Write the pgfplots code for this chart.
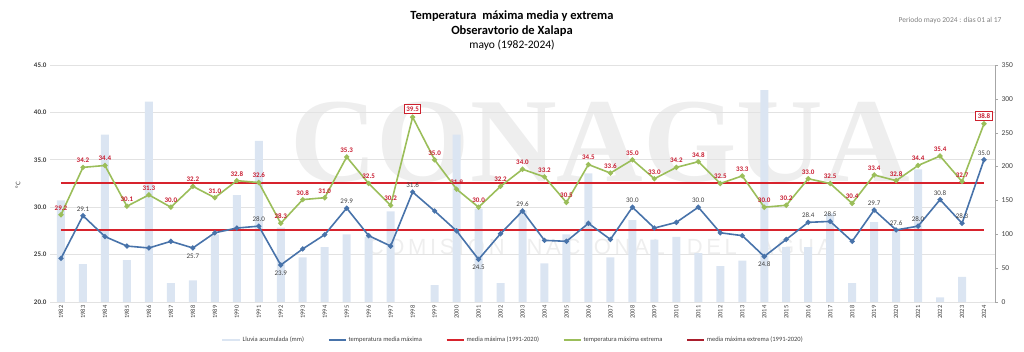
\documentclass[border=0pt]{standalone}
\usepackage{fontspec}
\setmainfont{Carlito}
\newfontfamily\wmfont{Liberation Serif}
\newfontfamily\wmsans{Liberation Sans}
\usepackage{pgfplots}
\pgfplotsset{compat=1.18}
\usepackage{pgfplotstable}

\definecolor{barc}{RGB}{219,229,242}
\definecolor{bluel}{RGB}{72,115,170}
\definecolor{greenl}{RGB}{155,190,90}
\definecolor{redl}{RGB}{205,32,45}
\definecolor{redm}{RGB}{215,35,45}
\definecolor{labred}{RGB}{200,30,50}
\definecolor{gridc}{RGB}{226,226,226}
\definecolor{txt}{RGB}{64,64,64}
\definecolor{wm}{RGB}{238,238,238}

\pgfplotstableread{
idx year media extrema lluvia
0 1982 24.6 29.2 150
1 1983 29.1 34.2 56
2 1984 26.9 34.4 247
3 1985 25.9 30.1 62
4 1986 25.7 31.3 296
5 1987 26.4 30.0 28
6 1988 25.7 32.2 32
7 1989 27.3 31.0 100
8 1990 27.8 32.8 158
9 1991 28.0 32.6 238
10 1992 23.9 28.3 110
11 1993 25.6 30.8 66
12 1994 27.1 31.0 81
13 1995 29.9 35.3 100
14 1996 27.0 32.5 96
15 1997 25.9 30.2 134
16 1998 31.6 39.5 0
17 1999 29.6 35.0 25
18 2000 27.5 31.9 247
19 2001 24.5 30.0 138
20 2002 27.2 32.2 28
21 2003 29.6 34.0 135
22 2004 26.5 33.2 57
23 2005 26.4 30.5 100
24 2006 28.3 34.5 190
25 2007 26.6 33.6 66
26 2008 30.0 35.0 121
27 2009 27.8 33.0 92
28 2010 28.4 34.2 96
29 2011 30.0 34.8 72
30 2012 27.3 32.5 53
31 2013 27.0 33.3 61
32 2014 24.8 30.0 313
33 2015 26.6 30.2 81
34 2016 28.4 33.0 81
35 2017 28.5 32.5 131
36 2018 26.4 30.4 28
37 2019 29.7 33.4 118
38 2020 27.6 32.8 106
39 2021 28.0 34.4 196
40 2022 30.8 35.4 7
41 2023 28.3 32.7 37
42 2024 35.0 38.8 0
}\datos

\pgfplotstableread{
idx val
1 29.1
9 28.0
13 29.9
16 31.6
21 29.6
26 30.0
29 30.0
34 28.4
35 28.5
37 29.7
38 27.6
39 28.0
40 30.8
41 28.3
42 35.0
}\blueabove

\pgfplotstableread{
idx val
6 25.7
10 23.9
19 24.5
32 24.8
}\bluebelow

\pgfplotstableread{
idx val
16 39.5
42 38.8
}\boxed

\pgfplotstableread{
idx lo hi
0 27.6 32.6
42 27.6 32.6
}\refs

\pgfplotsset{
  base/.style={
    at={(50pt,50pt)}, anchor=south west, scale only axis,
    width=945pt, height=237pt, xmin=-0.5, xmax=42.5,
    clip=false,
  },
}

\begin{document}
\begin{tikzpicture}
\path[use as bounding box] (0,0) rectangle (1024pt,352pt);

% watermark
\node[text=wm, font=\wmfont\bfseries\fontsize{120}{120}\selectfont, inner sep=0] at (600pt,210pt) {CONAGUA};
\node[text=wm, font=\wmsans\fontsize{22}{22}\selectfont, inner sep=0] at (600pt,107pt) {C\,O\,M\,I\,S\,I\,Ó\,N\quad N\,A\,C\,I\,O\,N\,A\,L\quad D\,E\,L\quad A\,G\,U\,A};

% Axis A: grid, x ticks, left y ticks
\begin{axis}[base,
  ymin=20, ymax=45, ytick={20,25,...,45},
  ymajorgrids, grid style={gridc, line width=0.6pt},
  axis y line*=left, y axis line style={draw=none},
  axis x line*=bottom, x axis line style={gridc, line width=0.6pt, -},
  xtick={0,...,42},
  xticklabels from table={\datos}{year},
  major tick length=0pt,
  xticklabel style={rotate=90, anchor=east, font=\fontsize{6.5}{6.5}\selectfont, text=txt},
  yticklabel style={font=\bfseries\fontsize{7}{7}\selectfont, text=txt},
  yticklabel={\pgfmathprintnumber[fixed,fixed zerofill,precision=1]{\tick}},
  /pgf/number format/assume math mode=true,
]
\end{axis}

% Axis B: rain bars, right axis
\begin{axis}[base,
  ymin=0, ymax=350, ytick={0,50,...,350},
  axis y line*=right, axis x line=none,
  y axis line style={draw=gray!70, -},
  ytick style={draw=gray!70},
  tick align=outside, major tick length=3pt,
  yticklabel style={font=\fontsize{7.5}{7.5}\selectfont, text=txt},
  /pgf/number format/assume math mode=true,
]
\addplot[ybar, bar width=8pt, fill=barc, draw=none] table[x=idx, y=lluvia] {\datos};
\end{axis}

% Axis C: temperature lines
\begin{axis}[base,
  ymin=20, ymax=45, hide axis,
  legend style={at={(0.49,-0.16)}, anchor=center, draw=none, fill=none,
    font=\fontsize{6.5}{7}\selectfont, text=txt, legend columns=5,
    /tikz/every even column/.append style={column sep=22pt}},
  legend image code/.code={\draw[#1] (0cm,0cm) -- (0.6cm,0cm);},
  /pgf/number format/assume math mode=true,
]
\addlegendimage{line width=2.2pt, draw=barc}
\addlegendentry{Lluvia acumulada (mm)}
\addlegendimage{line width=1.4pt, draw=bluel}
\addlegendentry{temperatura media máxima}
\addlegendimage{line width=1.4pt, draw=redm}
\addlegendentry{media máxima (1991-2020)}
\addlegendimage{line width=1.4pt, draw=greenl}
\addlegendentry{temperatura máxima extrema}
\addlegendimage{line width=1.4pt, draw={rgb,255:red,170;green,30;blue,45}}
\addlegendentry{media máxima extrema (1991-2020)}

\addplot[forget plot, color=redm, line width=2pt, mark=none, solid] table[x=idx, y=hi] {\refs};
\addplot[forget plot, color=redm, line width=1.8pt, mark=none, solid] table[x=idx, y=lo] {\refs};

\addplot[forget plot, draw=greenl, line width=1.6pt, mark=*, mark size=1.7pt, mark options={fill=greenl, draw=greenl}] table[x=idx, y=extrema] {\datos};
\addplot[forget plot, draw=bluel, line width=1.6pt, mark=*, mark size=1.7pt, mark options={fill=bluel, draw=bluel}] table[x=idx, y=media] {\datos};

% green labels
\addplot[forget plot, only marks, mark=none,
  skip coords between index={16}{17},
  skip coords between index={42}{43},
  nodes near coords={\pgfmathprintnumber[fixed,fixed zerofill,precision=1]{\pgfplotspointmeta}},
  nodes near coords style={font=\bfseries\fontsize{7}{7}\selectfont, text=labred, anchor=south, yshift=1pt},
  point meta=y] table[x=idx, y=extrema] {\datos};
\addplot[forget plot, only marks, mark=none,
  nodes near coords={\pgfmathprintnumber[fixed,fixed zerofill,precision=1]{\pgfplotspointmeta}},
  nodes near coords style={font=\bfseries\fontsize{7}{7}\selectfont, text=labred, anchor=south, yshift=3pt,
    draw=redl, line width=1.1pt, fill=white, inner sep=2pt},
  point meta=y] table[x=idx, y=val] {\boxed};

% blue labels
\addplot[forget plot, only marks, mark=none,
  nodes near coords={\pgfmathprintnumber[fixed,fixed zerofill,precision=1]{\pgfplotspointmeta}},
  nodes near coords style={font=\fontsize{7}{7}\selectfont, text=txt, anchor=south, yshift=1pt},
  point meta=y] table[x=idx, y=val] {\blueabove};
\addplot[forget plot, only marks, mark=none,
  nodes near coords={\pgfmathprintnumber[fixed,fixed zerofill,precision=1]{\pgfplotspointmeta}},
  nodes near coords style={font=\fontsize{7}{7}\selectfont, text=txt, anchor=north, yshift=-2pt},
  point meta=y] table[x=idx, y=val] {\bluebelow};
\end{axis}

% titles
\node[font=\bfseries\fontsize{12.5}{13}\selectfont, text=black] at (512pt,336pt) {Temperatura \ máxima media y extrema};
\node[font=\bfseries\fontsize{12.5}{13}\selectfont, text=black] at (512pt,321pt) {Obseravtorio de Xalapa};
\node[font=\fontsize{11.5}{12}\selectfont, text=black] at (512pt,307pt) {mayo (1982-2024)};
\node[font=\fontsize{7.5}{8}\selectfont, text=gray] at (950pt,331pt) {Periodo mayo 2024 : días 01 al 17};
\node[rotate=90, font=\fontsize{7}{7}\selectfont, text=txt] at (18pt,167pt) {°C};
\end{tikzpicture}
\end{document}
